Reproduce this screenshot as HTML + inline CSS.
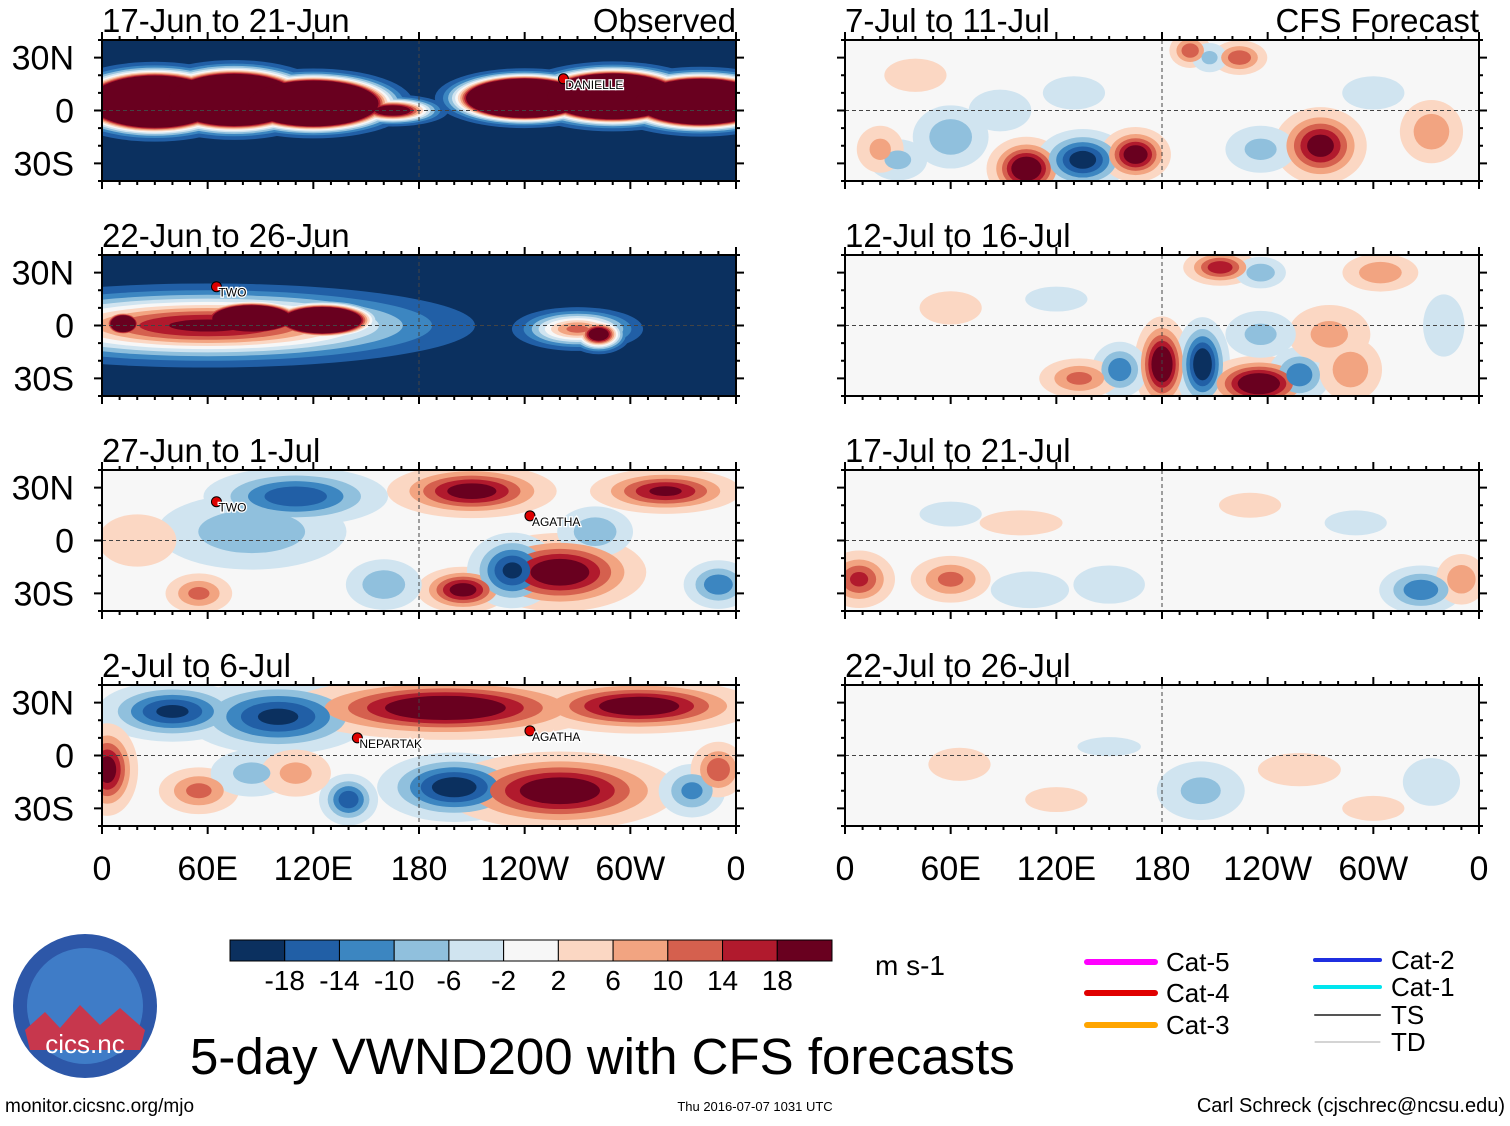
<!DOCTYPE html>
<html><head><meta charset="utf-8">
<style>
html,body{margin:0;padding:0;background:#fff;}
body{width:1510px;height:1121px;overflow:hidden;font-family:"Liberation Sans",sans-serif;}
</style></head>
<body>
<svg id="chart" width="1510" height="1121" xmlns="http://www.w3.org/2000/svg" font-family="Liberation Sans, sans-serif">
</svg>
<script>
// ---- data ----
const levelBounds = [-18,-14,-10,-6,-2,2,6,10,14,18];
const binColors = ["#0b305f","#215fa6","#3c86c1","#90c0dd","#d0e4f0","#f7f7f7","#fbd7c3","#f2a481","#d5604e","#b11a2d","#69001f"];
const colorbarLabels = ["-18","-14","-10","-6","-2","2","6","10","14","18"];
const lonTickLabels = ["0","60E","120E","180","120W","60W","0"];
const latTickLabels = ["30N","0","30S"];
const panelTitles = ["17-Jun to 21-Jun","22-Jun to 26-Jun","27-Jun to 1-Jul","2-Jul to 6-Jul","7-Jul to 11-Jul","12-Jul to 16-Jul","17-Jul to 21-Jul","22-Jul to 26-Jul"];
const panelBase = [-22,-22,0,0,0,0,0,0];
// blobs: [lon, lat, sxDeg, syDeg, peak]
const p1Blobs = [[30,5,20,8,200],[75,6,20,8,200],[120,4,20,7,200],[165,0,14,4,30],[240,7,18,6,200],[290,8,20,7,200],[340,5,20,7,200]];
const p2Blobs = [[60,0,70,11,20],[85,4,15,5,100],[125,3,15,5,100],[12,1,6,4,60],[270,-2,18,6,12],[282,-5,8,5,30]];
const p3Blobs = [[210,28,22,7,22],[320,28,20,6,20],[110,25,25,8,-18],[85,5,30,12,-10],[260,-18,22,10,24],[205,-28,12,6,22],[233,-17,12,10,-20],[160,-25,12,8,-10],[350,-25,10,7,-14],[55,-30,10,6,12],[280,5,12,8,-10],[20,0,15,10,6]];
const p4Blobs = [[40,25,20,8,-20],[100,22,25,10,-20],[195,27,40,8,26],[305,28,30,7,24],[3,-8,8,12,22],[200,-18,20,9,-22],[260,-20,30,10,24],[140,-25,8,7,-18],[55,-20,12,7,12],[85,-10,14,8,-8],[110,-10,12,8,8],[335,-20,10,8,-12],[350,-8,8,8,14]];
const r1Blobs = [[103,-33,10,8,26],[135,-28,12,8,-22],[165,-25,9,7,24],[270,-20,12,10,22],[60,-15,12,10,-10],[30,-28,10,7,-8],[333,-12,10,10,10],[236,-22,12,8,-8],[196,34,6,5,14],[224,30,8,5,14],[207,30,6,5,-8],[20,-22,8,8,8],[88,0,12,8,-6],[130,10,15,8,-4],[300,10,15,8,-4],[40,20,15,8,4]];
const r2Blobs = [[180,-22,7,12,26],[203,-22,7,12,-24],[235,-33,14,7,26],[156,-25,8,8,-14],[258,-28,9,8,-14],[133,-30,12,6,12],[213,33,10,5,18],[236,30,8,5,-10],[304,30,12,6,10],[275,-5,14,10,8],[236,-5,12,8,-8],[287,-25,10,10,10],[60,10,15,8,4],[120,15,15,6,-4],[340,0,10,15,-4]];
const r3Blobs = [[8,-22,10,8,16],[60,-22,12,7,12],[327,-28,12,7,-14],[105,-28,15,7,-6],[350,-22,8,8,10],[150,-25,15,8,-5],[230,20,15,6,4],[100,10,20,6,4],[290,10,15,6,-4],[60,15,15,6,-4]];
const r4Blobs = [[202,-20,15,10,-8],[258,-8,20,8,4],[333,-15,12,10,-5],[65,-5,15,8,4],[120,-25,15,6,4],[150,5,20,6,-3],[300,-30,15,6,4]];
const panelBlobs = [p1Blobs,p2Blobs,p3Blobs,p4Blobs,r1Blobs,r2Blobs,r3Blobs,r4Blobs];
const storms = [[0,262,18,"DANIELLE"],[1,65,22,"TWO"],[2,65,22,"TWO"],[2,243,14,"AGATHA"],[3,145,10,"NEPARTAK"],[3,243,14,"AGATHA"]];

// ---- layout ----
const NS="http://www.w3.org/2000/svg";
const svg=document.getElementById('chart');
function mk(tag,attrs,parent){const e=document.createElementNS(NS,tag);for(const k in attrs)e.setAttribute(k,attrs[k]);(parent||svg).appendChild(e);return e;}
const colX=[102,845], W=634, rowY=[40,255,470,685], H=141;
function xScale(p,lon){return p.x+lon/360*W;}
function yScale(p,lat){return p.y+H/2-lat/80*H;}
function colorOf(v){let i=0;while(i<levelBounds.length&&v>levelBounds[i])i++;return binColors[i];}

for(let i=0;i<8;i++){
  const p={x:colX[i<4?0:1],y:rowY[i%4]};
  const g=mk('g',{});
  
  
  const cid='clip'+i;
  const cp=mk('clipPath',{id:cid},g);mk('rect',{x:p.x,y:p.y,width:W,height:H},cp);
  const inner=mk('g',{'clip-path':'url(#'+cid+')'},g);
  const base=panelBase[i];
  mk('rect',{x:p.x,y:p.y,width:W,height:H,fill:colorOf(base)},inner);
  const blobs=panelBlobs[i];
  for(let k=0;k<levelBounds.length;k++){
    blobs.forEach(b=>{
      const [lon,lat,sx,sy,pk]=b;
      const crossed=pk>base?levelBounds.filter(L=>L>base&&L<pk):levelBounds.filter(L=>L<base&&L>pk).reverse();
      if(k>=crossed.length)return;
      const L=crossed[k];
      const f=Math.sqrt(2*Math.log((pk-base)/(L-base)));
      const e=mk('ellipse',{cx:xScale(p,lon),cy:yScale(p,lat),rx:sx*f*W/360,ry:sy*f*H/80,fill:colorOf(pk>base?L+0.1:L-0.1)},inner);
      
      
    });
  }
  mk('line',{x1:p.x,x2:p.x+W,y1:yScale(p,0),y2:yScale(p,0),stroke:'#444','stroke-width':1,'stroke-dasharray':'4,3'},inner);
  mk('line',{x1:xScale(p,180),x2:xScale(p,180),y1:p.y,y2:p.y+H,stroke:'#444','stroke-width':1,'stroke-dasharray':'4,3'},inner);
  const fr=mk('rect',{x:p.x,y:p.y,width:W,height:H,fill:'none',stroke:'#000','stroke-width':2},g);
  
  
  for(let lon=0;lon<=360;lon+=10){
    const len=lon%60===0?8:4;
    mk('line',{x1:xScale(p,lon),x2:xScale(p,lon),y1:p.y+H,y2:p.y+H+len,stroke:'#000','stroke-width':2},g);
    mk('line',{x1:xScale(p,lon),x2:xScale(p,lon),y1:p.y,y2:p.y-len,stroke:'#000','stroke-width':2},g);
  }
  for(let lat=-40;lat<=40;lat+=10){
    const len=lat%30===0?8:4;
    mk('line',{x1:p.x,x2:p.x-len,y1:yScale(p,lat),y2:yScale(p,lat),stroke:'#000','stroke-width':2},g);
    mk('line',{x1:p.x+W,x2:p.x+W+len,y1:yScale(p,lat),y2:yScale(p,lat),stroke:'#000','stroke-width':2},g);
  }
  const t=mk('text',{x:p.x,y:p.y-8,'font-size':33,fill:'#000'},g);t.textContent=panelTitles[i];
  
  
  if(i===0||i===4){const t2=mk('text',{x:p.x+W,y:p.y-8,'font-size':33,'text-anchor':'end'},g);t2.textContent=i===0?'Observed':'CFS Forecast';
    
    }
  if(i<4){
    [30,0,-30].forEach((lat,j)=>{const y=mk('text',{x:74,y:yScale(p,lat)+12,'font-size':34,'text-anchor':'end'},g);y.textContent=latTickLabels[j];
      
      });
  }
  if(i%4===3){
    lonTickLabels.forEach((s,j)=>{const x=mk('text',{x:xScale(p,j*60),y:880,'font-size':34,'text-anchor':'middle'},g);x.textContent=s;
      
      });
  }
  storms.filter(s=>s[0]===i).forEach(s=>{
    const cx=xScale(p,s[1]),cy=yScale(p,s[2]);
    mk('circle',{cx:cx,cy:cy,r:5,fill:'#d00',stroke:'#000','stroke-width':1},g);
    const st=mk('text',{x:cx+2,y:cy+10,'font-size':12,fill:'#000',stroke:'#fff','stroke-width':2.5,'paint-order':'stroke'},g);st.textContent=s[3];
    
    
  });
}
// colorbar
const cb=mk('g',{});


const cbw=(832-230)/binColors.length;
binColors.forEach((c,j)=>{mk('rect',{x:230+j*cbw,y:940,width:cbw,height:21,fill:c,stroke:'#000','stroke-width':1},cb);});
colorbarLabels.forEach((s,j)=>{const t=mk('text',{x:230+(j+1)*cbw,y:990,'font-size':28,'text-anchor':'middle'},cb);t.textContent=s;});
const u=mk('text',{x:875,y:975,'font-size':28},cb);u.textContent='m s-1';
// legend
const lg=mk('g',{});


[["Cat-5","#ff00ff",962,1087,1155,6],["Cat-4","#e00000",993,1087,1155,6],["Cat-3","#ffa500",1025,1087,1155,6],
 ["Cat-2","#1f2fe0",960,1315,1380,4],["Cat-1","#00e5ee",987,1315,1380,4],["TS","#555",1015,1315,1380,2],["TD","#aaa",1042,1315,1380,1]].forEach(r=>{
  mk('line',{x1:r[3],x2:r[4],y1:r[2],y2:r[2],stroke:r[1],'stroke-width':r[5],'stroke-linecap':'round'},lg);
  const t=mk('text',{x:r[4]+11,y:r[2]+9,'font-size':26},lg);t.textContent=r[0];
});
// logo
const lo=mk('g',{});


mk('circle',{cx:85,cy:1006,r:72,fill:'#2d57a8'},lo);
mk('circle',{cx:85,cy:1006,r:58,fill:'#3f7cc7'},lo);
mk('path',{d:'M25,1030 L45,1012 L60,1028 L80,1005 L100,1025 L120,1008 L145,1030 L140,1050 L30,1050 Z',fill:'#c7374d'},lo);
const lt=mk('text',{x:85,y:1053,'font-size':26,'text-anchor':'middle',fill:'#fff'},lo);lt.textContent='cics.nc';
const ttl=mk('text',{x:190,y:1074,'font-size':51});ttl.textContent='5-day VWND200 with CFS forecasts';


const f1=mk('text',{x:5,y:1112,'font-size':19});f1.textContent='monitor.cicsnc.org/mjo';


const f2=mk('text',{x:755,y:1111,'font-size':13,'text-anchor':'middle'});f2.textContent='Thu 2016-07-07 1031 UTC';


const f3=mk('text',{x:1505,y:1112,'font-size':20,'text-anchor':'end'});f3.textContent='Carl Schreck (cjschrec@ncsu.edu)';


</script>
</body></html>
